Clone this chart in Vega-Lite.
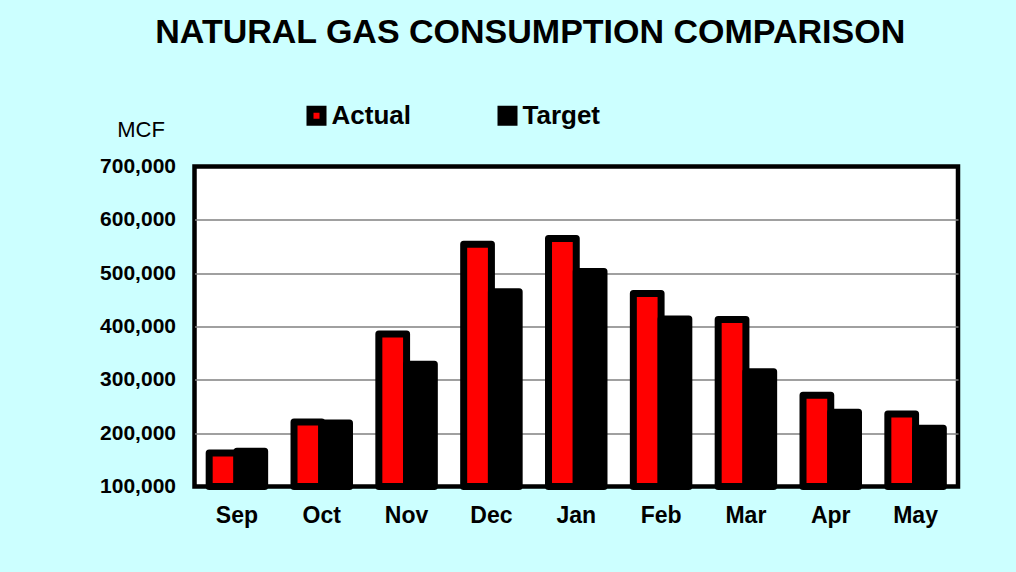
{
  "$schema": "https://vega.github.io/schema/vega-lite/v6.json",
  "width": 763.5,
  "height": 320,
  "autosize": "none",
  "padding": {"left": 194.5, "top": 166.5, "right": 58, "bottom": 85.5},
  "background": "#ccffff",
  "title": {
    "text": "NATURAL GAS CONSUMPTION COMPARISON",
    "font": "Liberation Sans",
    "fontSize": 34,
    "fontWeight": "bold",
    "color": "black",
    "anchor": "middle",
    "dx": -46,
    "dy": -49
  },
  "data": {
    "values": [
      {"month": "Sep", "series": "Actual", "value": 163000},
      {"month": "Sep", "series": "Target", "value": 166000},
      {"month": "Oct", "series": "Actual", "value": 221000},
      {"month": "Oct", "series": "Target", "value": 219000},
      {"month": "Nov", "series": "Actual", "value": 386000},
      {"month": "Nov", "series": "Target", "value": 329000},
      {"month": "Dec", "series": "Actual", "value": 554000},
      {"month": "Dec", "series": "Target", "value": 465000},
      {"month": "Jan", "series": "Actual", "value": 565000},
      {"month": "Jan", "series": "Target", "value": 503000},
      {"month": "Feb", "series": "Actual", "value": 462000},
      {"month": "Feb", "series": "Target", "value": 414000},
      {"month": "Mar", "series": "Actual", "value": 413000},
      {"month": "Mar", "series": "Target", "value": 315000},
      {"month": "Apr", "series": "Actual", "value": 271000},
      {"month": "Apr", "series": "Target", "value": 239000},
      {"month": "May", "series": "Actual", "value": 236000},
      {"month": "May", "series": "Target", "value": 209000}
    ]
  },
  "mark": {"type": "bar", "stroke": "black", "strokeWidth": 7, "strokeJoin": "round"},
  "encoding": {
    "x": {
      "field": "month",
      "type": "nominal",
      "sort": ["Sep", "Oct", "Nov", "Dec", "Jan", "Feb", "Mar", "Apr", "May"],
      "scale": {"paddingInner": 0.346, "paddingOuter": 0.173},
      "axis": {
        "title": null,
        "domain": false,
        "ticks": false,
        "labelAngle": 0,
        "labelFont": "Liberation Sans",
        "labelFontSize": 23,
        "labelFontWeight": "bold",
        "labelColor": "black",
        "labelPadding": 18,
        "labelBaseline": "top"
      }
    },
    "xOffset": {
      "field": "series",
      "type": "nominal",
      "sort": ["Actual", "Target"],
      "scale": {"paddingInner": 0, "paddingOuter": 0}
    },
    "y": {
      "field": "value",
      "type": "quantitative",
      "scale": {"domain": [100000, 700000], "nice": false, "zero": false},
      "axis": {
        "values": [100000, 200000, 300000, 400000, 500000, 600000, 700000],
        "format": ",d",
        "domain": false,
        "ticks": false,
        "grid": true,
        "gridColor": {"condition": {"test": "datum.value == 100000 || datum.value == 700000", "value": "black"}, "value": "#808080"},
        "gridWidth": 1.5,
        "labelFont": "Liberation Sans",
        "labelFontSize": 21,
        "labelFontWeight": "bold",
        "labelColor": "black",
        "labelPadding": 19,
        "title": "MCF",
        "titleAngle": 0,
        "titleX": -54,
        "titleY": -30,
        "titleAlign": "center",
        "titleBaseline": "alphabetic",
        "titleFont": "Liberation Sans",
        "titleFontSize": 22,
        "titleFontWeight": "normal",
        "titleColor": "black"
      }
    },
    "y2": {"datum": 100000},
    "color": {
      "field": "series",
      "type": "nominal",
      "scale": {"domain": ["Actual", "Target"], "range": ["#ff0000", "#000000"]},
      "legend": {
        "title": null,
        "orient": "none",
        "legendX": 109,
        "legendY": -64,
        "direction": "horizontal",
        "padding": 0,
        "symbolType": "square",
        "symbolSize": 169,
        "symbolStrokeWidth": 7,
        "symbolStrokeColor": "black",
        "symbolOpacity": 1,
        "labelFont": "Liberation Sans",
        "labelFontSize": 26,
        "labelFontWeight": "bold",
        "labelColor": "black",
        "labelOffset": 2,
        "columnPadding": 75
      }
    }
  },
  "config": {
    "view": {"fill": "white", "stroke": "black", "strokeWidth": 4.5}
  }
}
